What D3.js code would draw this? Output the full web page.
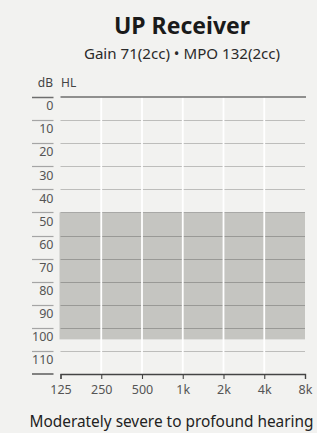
<!DOCTYPE html>
<html>
<head>
<meta charset="utf-8">
<script src="https://cdn.jsdelivr.net/npm/d3@7"></script>
<style>
  html, body { margin: 0; padding: 0; background: #f2f2f0; }
  svg { display: block; font-family: "Noto Sans", sans-serif; }
</style>
</head>
<body>
<div id="chart"></div>
<script>
// chart data
const title = 'UP Receiver';
const subtitle = 'Gain 71(2cc) \u2022 MPO 132(2cc)';
const caption = 'Moderately severe to profound hearing';
const frequencies = [125, 250, 500, 1000, 2000, 4000, 8000];
const freqLabels = ['125', '250', '500', '1k', '2k', '4k', '8k'];
const dbTicks = [0, 10, 20, 30, 40, 50, 60, 70, 80, 90, 100, 110];
const dbDomain = [0, 120];
const fittingRange = [50, 105]; // dB HL, low / high edge of the shaded area

const W = 317, H = 433;
const margin = { top: 97, right: 12, bottom: 59, left: 60.5 };

const svg = d3.select('#chart').append('svg')
  .attr('width', W).attr('height', H);

const x = d3.scaleLog().base(2)
  .domain([frequencies[0], frequencies[frequencies.length - 1]])
  .range([margin.left, W - margin.right]);
const y = d3.scaleLinear().domain(dbDomain).range([margin.top, H - margin.bottom]);

// titles
svg.append('text')
  .attr('x', 182).attr('y', 33.5)
  .attr('text-anchor', 'middle')
  .attr('font-size', 23).attr('font-weight', 'bold').attr('fill', '#1a1a1a')
  .text(title);
svg.append('text')
  .attr('x', 182).attr('y', 58.5)
  .attr('text-anchor', 'middle')
  .attr('font-size', 15.1).attr('fill', '#2a2a2a')
  .text(subtitle);

// unit label
svg.append('text').attr('x', 53).attr('y', 87)
  .attr('text-anchor', 'end').attr('font-size', 12).attr('fill', '#444').text('dB');
svg.append('text').attr('x', 61).attr('y', 87)
  .attr('font-size', 12).attr('fill', '#444').text('HL');

// shaded hearing range
svg.append('rect')
  .attr('x', x.range()[0] - 1)
  .attr('y', y(fittingRange[0]))
  .attr('width', x.range()[1] - x.range()[0] + 1)
  .attr('height', y(fittingRange[1]) - y(fittingRange[0]))
  .attr('fill', '#c5c5c1');

// horizontal grid lines
svg.append('g').selectAll('line')
  .data(dbTicks.slice(1))
  .join('line')
  .attr('x1', x.range()[0]).attr('x2', x.range()[1])
  .attr('y1', d => Math.round(y(d)) + 0.5).attr('y2', d => Math.round(y(d)) + 0.5)
  .attr('stroke', 'rgba(0,0,0,0.22)').attr('stroke-width', 1.2);

// vertical white lines
svg.append('g').selectAll('line')
  .data(frequencies.slice(1, -1))
  .join('line')
  .attr('x1', d => x(d)).attr('x2', d => x(d))
  .attr('y1', y(0)).attr('y2', y(dbDomain[1]))
  .attr('stroke', '#fff').attr('stroke-width', 1.8);

// top line at 0 dB
svg.append('line')
  .attr('x1', x.range()[0]).attr('x2', x.range()[1] + 1)
  .attr('y1', y(0)).attr('y2', y(0))
  .attr('stroke', '#6e6e6e').attr('stroke-width', 1.5);

// left dashes + labels
const yAxis = svg.append('g');
yAxis.selectAll('line')
  .data(dbTicks)
  .join('line')
  .attr('x1', 32).attr('x2', 53.5)
  .attr('y1', d => Math.round(y(d)) + 0.5).attr('y2', d => Math.round(y(d)) + 0.5)
  .attr('stroke', d => d === 0 ? '#6e6e6e' : '#a5a5a5')
  .attr('stroke-width', d => d === 0 ? 1.5 : 1.2);
yAxis.selectAll('text')
  .data(dbTicks)
  .join('text')
  .attr('x', 53.5).attr('y', d => y(d) + 13.3)
  .attr('text-anchor', 'end')
  .attr('font-size', 12.5).attr('fill', '#555')
  .text(d => d);
yAxis.append('line')
  .attr('x1', 32).attr('x2', 53.5)
  .attr('y1', y(dbDomain[1])).attr('y2', y(dbDomain[1]))
  .attr('stroke', '#444').attr('stroke-width', 1.3);

// bottom axis
const xAxis = d3.axisBottom(x)
  .tickValues(frequencies)
  .tickFormat((d, i) => freqLabels[i])
  .tickSize(5)
  .tickSizeOuter(5)
  .tickPadding(6);
const gx = svg.append('g')
  .attr('transform', 'translate(0,' + y(dbDomain[1]) + ')')
  .call(xAxis);
gx.select('.domain').attr('stroke', '#444').attr('stroke-width', 1.3);
gx.selectAll('.tick line').attr('stroke', '#444').attr('stroke-width', 1.1);
gx.selectAll('.tick text')
  .attr('font-family', '"Noto Sans", sans-serif')
  .attr('font-size', 12.5).attr('fill', '#555');

// caption
svg.append('text')
  .attr('x', 171.5).attr('y', 426.5)
  .attr('text-anchor', 'middle')
  .attr('font-size', 15.4).attr('fill', '#222')
  .text(caption);
</script>
</body>
</html>
